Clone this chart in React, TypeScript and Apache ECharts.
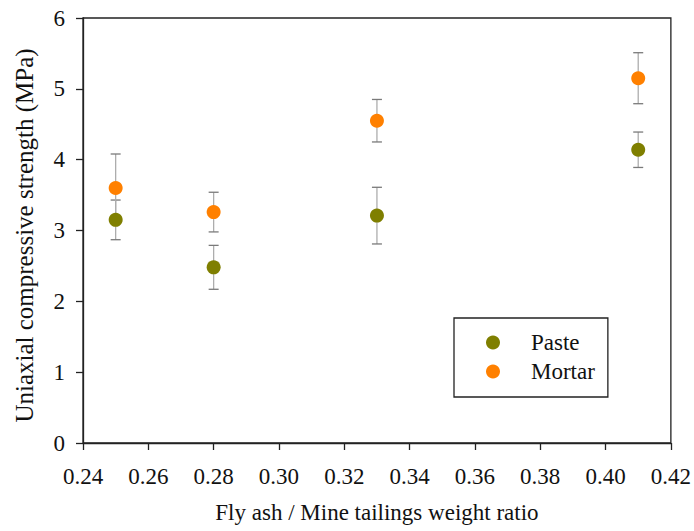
import React, { useEffect, useRef } from "react";
import * as echarts from "echarts";

const xValues = [0.25, 0.28, 0.33, 0.41];
const pasteMean = [3.15, 2.48, 3.21, 4.14];
const pasteErr = [0.28, 0.31, 0.4, 0.25];
const mortarMean = [3.6, 3.26, 4.55, 5.15];
const mortarErr = [0.48, 0.28, 0.3, 0.36];
const xTicks = { min: 0.24, max: 0.42, interval: 0.02 };
const yTicks = { min: 0, max: 6, interval: 1 };

const FONT = "Liberation Serif";

export default function App() {
  const ref = useRef<HTMLDivElement>(null);
  useEffect(() => {
    if (!ref.current) return;
    const chart = echarts.init(ref.current, undefined, { renderer: "svg" });
    const errData = [
      ...xValues.map((x, i) => [x, pasteMean[i] - pasteErr[i], pasteMean[i] + pasteErr[i]]),
      ...xValues.map((x, i) => [x, mortarMean[i] - mortarErr[i], mortarMean[i] + mortarErr[i]]),
    ];
    const renderErr = (params: any, api: any) => {
      const x = api.value(0);
      const lo = api.coord([x, api.value(1)]);
      const hi = api.coord([x, api.value(2)]);
      const w = 5;
      const style = { stroke: "#adadad", lineWidth: 1.3 };
      const cap = { stroke: "#7a7a7a", lineWidth: 1.3 };
      return {
        type: "group",
        children: [
          { type: "line", shape: { x1: lo[0], y1: lo[1], x2: hi[0], y2: hi[1] }, style },
          { type: "line", shape: { x1: lo[0] - w, y1: lo[1], x2: lo[0] + w, y2: lo[1] }, style: cap },
          { type: "line", shape: { x1: hi[0] - w, y1: hi[1], x2: hi[0] + w, y2: hi[1] }, style: cap },
        ],
      };
    };
    chart.setOption({
      animation: false,
      backgroundColor: "#fff",
      textStyle: { fontFamily: FONT },
      grid: {
        left: 83,
        right: 21,
        top: 18,
        bottom: 88,
        containLabel: false,
        show: true,
        borderColor: "#222",
        borderWidth: 1.3,
      },
      legend: {
        data: ["Paste", "Mortar"],
        orient: "vertical",
        left: 454,
        top: 318,
        padding: [13, 13, 14, 32],
        itemGap: 6,
        itemWidth: 14,
        itemHeight: 14,
        borderColor: "#222",
        borderWidth: 1.3,
        textStyle: { fontFamily: FONT, fontSize: 23, color: "#111", padding: [0, 0, 0, 26] },
      },
      xAxis: {
        type: "value",
        min: xTicks.min,
        max: xTicks.max,
        interval: xTicks.interval,
        name: "Fly ash / Mine tailings weight ratio",
        nameLocation: "middle",
        nameGap: 58,
        nameTextStyle: { fontFamily: FONT, fontSize: 23, color: "#111" },
        axisLine: { show: true, lineStyle: { color: "#222", width: 1.3 } },
        axisTick: { show: true, inside: false, length: 7, lineStyle: { color: "#222", width: 1.3 } },
        axisLabel: {
          fontFamily: FONT,
          fontSize: 23,
          color: "#111",
          margin: 22,
          formatter: (v: number) => v.toFixed(2),
        },
        splitLine: { show: false },
      },
      yAxis: {
        type: "value",
        min: yTicks.min,
        max: yTicks.max,
        interval: yTicks.interval,
        name: "Uniaxial compressive strength (MPa)",
        nameLocation: "middle",
        nameGap: 46,
        nameTextStyle: { fontFamily: FONT, fontSize: 25, color: "#111", padding: [0, 10, 0, 0] },
        axisLine: { show: true, lineStyle: { color: "#222", width: 1.3 } },
        axisTick: { show: true, inside: false, length: 7, lineStyle: { color: "#222", width: 1.3 } },
        axisLabel: { fontFamily: FONT, fontSize: 23, color: "#111", margin: 18 },
        splitLine: { show: false },
      },
      series: [
        {
          type: "custom",
          name: "err",
          renderItem: renderErr,
          data: errData,
          z: 1,
          silent: true,
        },
        {
          type: "scatter",
          name: "Paste",
          symbol: "circle",
          symbolSize: 14,
          itemStyle: { color: "#7f7f00", opacity: 1 },
          data: xValues.map((x, i) => [x, pasteMean[i]]),
          z: 3,
        },
        {
          type: "scatter",
          name: "Mortar",
          symbol: "circle",
          symbolSize: 14,
          itemStyle: { color: "#ff8000", opacity: 1 },
          data: xValues.map((x, i) => [x, mortarMean[i]]),
          z: 3,
        },
      ],
    });
    return () => chart.dispose();
  }, []);
  return <div ref={ref} style={{ position: "absolute", left: 0, top: 0, width: 694, height: 531 }} />;
}
